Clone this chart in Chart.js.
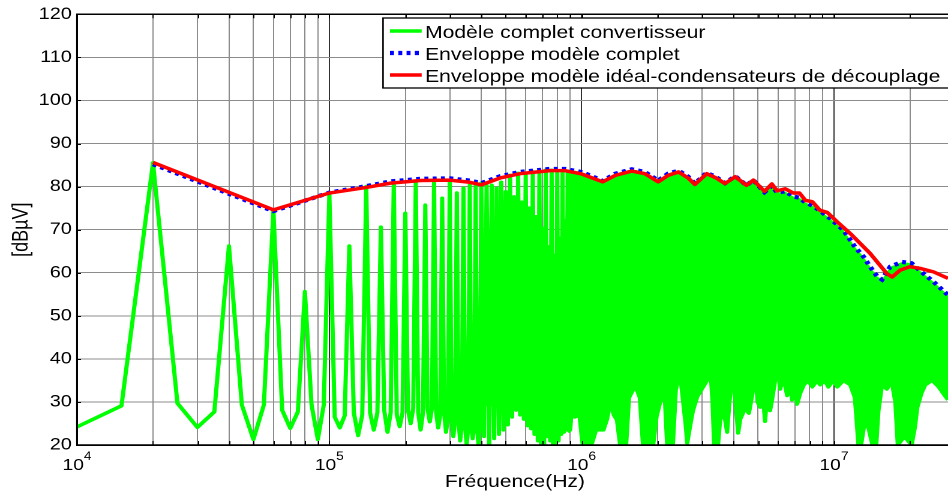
<!DOCTYPE html>
<html><head><meta charset="utf-8">
<script src="https://cdn.jsdelivr.net/npm/chart.js@4.4.1/dist/chart.umd.min.js"></script>
<style>html,body{margin:0;padding:0;background:#fff;overflow:hidden}</style>
</head><body>
<canvas id="c" width="790" height="494" style="display:block;width:948px;height:494px"></canvas>
<script>
const FONT = '"Liberation Sans", Arial, Helvetica, sans-serif';
const seriesLabels = ['Modèle complet convertisseur', 'Enveloppe modèle complet', 'Enveloppe modèle idéal-condensateurs de découplage'];
const xTitle = 'Fréquence(Hz)';
const yTitle = '[dBµV]';
const xMin = 1e4, xMax = 2.83e7;
const yMin = 20, yMax = 120, yStep = 10;
const xDecadeExponents = [4, 5, 6, 7];
const xMinorMultipliers = [1, 2, 3, 4, 5, 6, 7, 8, 9];

// Green spectrum, low part: one value every 5 kHz from 10 kHz to 400 kHz
const greenLowStartHz = 10000, greenLowStepHz = 5000;
const greenLow = [24.2, 29.1, 85.5, 29.7, 24.1, 27.7, 66.2, 29.3, 21.3, 29.3,
  74.5, 28.1, 23.9, 27.7, 55.6, 29.3, 21.3, 29.3, 78.3, 26.5,
  24.0, 26.8, 66.2, 27.5, 22.2, 27.0, 80.0, 27.5, 23.5, 27.5,
  70.6, 28.0, 23.0, 27.5, 80.8, 27.0, 24.3, 27.5, 73.8, 28.0,
  25.0, 28.5, 81.3, 27.5, 23.5, 27.5, 75.7, 28.5, 25.4, 28.5,
  81.1, 27.5, 24.0, 27.0, 77.3, 27.5, 23.0, 26.5, 81.0, 26.0,
  22.0, 26.0, 78.5, 25.5, 21.0, 25.0, 79.6, 24.5, 20.0, 24.0,
  80.3, 24.5, 21.5, 25.0, 80.3, 24.0, 20.0, 24.0, 80.8];
// Green spectrum, middle part: one value every 10 kHz from 410 kHz to 880 kHz
const greenMidStartHz = 410000, greenMidStepHz = 10000;
const greenMid = [22.0, 80.3, 20.0, 80.3, 21.5, 79.6, 22.5, 81.0, 23.5, 78.8,
  24.7, 82.6, 26.5, 77.6, 28.1, 83.1, 27.0, 76.4, 26.0, 83.0,
  24.5, 75.0, 23.8, 83.4, 22.5, 73.0, 21.0, 83.5, 20.0, 70.3,
  20.0, 83.8, 22.0, 66.0, 21.0, 83.8, 20.0, 64.0, 20.0, 83.7,
  21.0, 68.0, 22.5, 83.7, 23.0, 72.0, 23.5, 83.5];
// Solid green zone between the lines (360 kHz to 880 kHz): lower and upper edges
const greenSolidHz = [3.6e5, 3.9e5, 4.2e5, 4.5e5, 4.8e5, 5.2e5, 5.8e5, 6.2e5, 6.6e5, 7.0e5, 7.4e5, 7.8e5, 8.2e5, 8.6e5, 8.8e5];
const greenSolidBottom = [32, 30, 29, 29, 29, 30, 31, 30, 29, 28, 28, 27, 27, 27, 27];
const greenSolidTop = [32, 50, 60, 68, 74, 76, 75, 74, 72, 69, 65, 63, 67, 71, 83];
// Green spectrum, dense part: lower edge of the filled band (upper edge = envelope)
const greenBandHz = [880e3, 900e3, 910e3, 940e3, 980e3, 1.0e6, 1.01e6, 1.06e6, 1.1e6, 1.14e6,
  1.22e6, 1.26e6, 1.3e6, 1.34e6, 1.38e6, 1.42e6, 1.5e6, 1.54e6, 1.63e6, 1.7e6,
  1.75e6, 1.92e6, 1.98e6, 2.08e6, 2.14e6, 2.18e6, 2.3e6, 2.36e6, 2.45e6, 2.52e6,
  2.58e6, 2.62e6, 2.7e6, 2.76e6, 2.87e6, 3.03e6, 3.14e6, 3.23e6, 3.3e6, 3.35e6,
  3.47e6, 3.55e6, 3.7e6, 3.77e6, 3.85e6, 3.98e6, 4.07e6, 4.17e6, 4.25e6, 4.44e6,
  4.6e6, 4.75e6, 4.87e6, 4.98e6, 5.1e6, 5.2e6, 5.33e6, 5.45e6, 5.58e6, 5.7e6,
  5.84e6, 6.0e6, 6.12e6, 6.3e6, 6.52e6, 6.7e6, 6.82e6, 7.0e6, 7.14e6, 7.34e6,
  7.6e6, 7.9e6, 8.2e6, 8.57e6, 8.81e6, 9.2e6, 9.5e6, 9.92e6, 1.03e7, 1.09e7,
  1.16e7, 1.21e7, 1.25e7, 1.28e7, 1.32e7, 1.37e7, 1.42e7, 1.47e7, 1.5e7, 1.55e7,
  1.62e7, 1.69e7, 1.75e7, 1.79e7, 1.9e7, 2.03e7, 2.09e7, 2.14e7, 2.22e7, 2.3e7,
  2.45e7, 2.6e7, 2.71e7, 2.83e7, 3.0e7];
const greenBandBottom = [23, 23.5, 27, 26.5, 27, 22, 20, 20, 20.5, 23.5,
  23.5, 26, 30, 27, 25.8, 20, 20, 31, 33.8, 31,
  20, 20, 26.6, 31.6, 30, 20.4, 20.4, 32.8, 37, 30.4,
  25, 20.5, 25, 28, 31.2, 33.5, 35, 38.7, 30, 20,
  20, 27, 26, 23, 30, 37.4, 30, 22.8, 26, 28.5,
  27.4, 32, 37.4, 30, 28.8, 33, 25.5, 33, 28, 31,
  35, 37, 33, 36, 31.5, 34, 30.5, 33, 29.5, 32,
  34, 35, 33.5, 35, 34, 35, 33.5, 35, 33.5, 35,
  34, 31, 20, 20, 25, 24, 20, 20, 28, 34,
  33, 35, 30, 20, 22, 20, 24, 28.8, 32, 34,
  35, 33.5, 32, 30.5, 30];

// Envelope of the complete model (blue dotted)
const blueHz = [2e4, 6e4, 1e5, 1.4e5, 1.75e5, 2.3e5, 3e5, 3.6e5, 4e5, 4.75e5,
  5.7e5, 7.5e5, 8.6e5, 9.9e5, 1.08e6, 1.21e6, 1.36e6, 1.58e6, 1.78e6, 2.01e6,
  2.2e6, 2.42e6, 2.64e6, 2.81e6, 3.13e6, 3.41e6, 3.7e6, 4.06e6, 4.5e6, 4.79e6,
  5.3e6, 5.67e6, 5.95e6, 6.4e6, 6.9e6, 7.3e6, 7.7e6, 8.2e6, 8.55e6, 9.65e6,
  1.09e7, 1.21e7, 1.31e7, 1.39e7, 1.48e7, 1.55e7, 1.67e7, 1.86e7, 2.03e7, 2.26e7,
  2.48e7, 2.83e7, 3e7];
const blueDb = [85.2, 74.3, 78.6, 80.1, 81.2, 81.8, 81.9, 81.4, 80.8, 82.4,
  83.4, 84.1, 84.1, 83.4, 82.6, 81.3, 83.0, 84.0, 83.4, 81.4,
  83.0, 83.7, 82.3, 80.7, 83.2, 82.2, 80.8, 82.4, 80.3, 81.5,
  78.7, 80.2, 78.6, 78.9, 77.7, 77.4, 76.3, 75.6, 74.9, 72.6,
  69.9, 66.0, 63.7, 61.4, 59.2, 58.4, 61.4, 62.5, 62.2, 59.8,
  57.9, 54.8, 53.6];

// Envelope of the ideal model with decoupling capacitors (red)
const redHz = [2e4, 6e4, 1e5, 1.4e5, 1.75e5, 2.3e5, 3e5, 3.6e5, 4e5, 4.75e5,
  5.7e5, 7.5e5, 8.6e5, 9.9e5, 1.08e6, 1.21e6, 1.36e6, 1.58e6, 1.78e6, 2.01e6,
  2.2e6, 2.42e6, 2.64e6, 2.81e6, 3.13e6, 3.41e6, 3.7e6, 4.06e6, 4.5e6, 4.79e6,
  5.3e6, 5.67e6, 5.95e6, 6.4e6, 6.9e6, 7.3e6, 7.7e6, 8.2e6, 8.8e6, 9.4e6,
  1.03e7, 1.16e7, 1.39e7, 1.62e7, 1.7e7, 1.83e7, 2.0e7, 2.2e7, 2.48e7, 2.83e7, 3e7];
const redDb = [85.6, 74.6, 78.5, 79.8, 80.8, 81.4, 81.5, 81.0, 80.4, 82.0,
  83.0, 83.7, 83.7, 83.0, 82.2, 81.1, 82.6, 83.6, 83.0, 81.1,
  82.6, 83.4, 82.0, 80.5, 83.0, 82.0, 80.7, 82.3, 80.3, 81.5,
  78.9, 80.6, 79.0, 79.5, 78.5, 78.5, 76.8, 76.5, 74.5, 74.0,
  71.8, 69.1, 64.5, 59.8, 59.0, 60.6, 61.4, 61.0, 60.2, 58.7, 58.2];

// ---- build library data tables ----
const greenLine = greenLow.map((v, i) => ({x: greenLowStartHz + i * greenLowStepHz, y: v}))
  .concat(greenMid.map((v, i) => ({x: greenMidStartHz + i * greenMidStepHz, y: v})));
const greenBand = greenBandHz.map((f, i) => ({x: f, y: greenBandBottom[i]}));
const greenSolidLo = greenSolidHz.map((f, i) => ({x: f, y: greenSolidBottom[i]}));
const greenSolidHi = greenSolidHz.map((f, i) => ({x: f, y: greenSolidTop[i]}));
const blueData = blueHz.map((f, i) => ({x: f, y: blueDb[i]}));
const redData = redHz.map((f, i) => ({x: f, y: redDb[i]}));
const xTickValues = [];
xDecadeExponents.forEach(e => xMinorMultipliers.forEach(m => xTickValues.push(m * Math.pow(10, e))));
const isDecade = v => xDecadeExponents.some(e => Math.abs(v - Math.pow(10, e)) < 1e-6 * v);

const GREEN = '#00ff00', BLUE = '#0000ff', RED = '#ff0000';

const overlay = {
  id: 'overlay',
  afterDatasetsDraw(chart) {
    const {ctx, chartArea: a, scales: {x, y}} = chart;
    ctx.save();
    // inward tick marks
    ctx.strokeStyle = '#000';
    ctx.lineWidth = 1;
    ctx.beginPath();
    x.ticks.forEach(t => {
      const px = Math.round(x.getPixelForValue(t.value)) + 0.5;
      ctx.moveTo(px, a.bottom); ctx.lineTo(px, a.bottom - 4);
      ctx.moveTo(px, a.top); ctx.lineTo(px, a.top + 4);
    });
    y.ticks.forEach(t => {
      const py = Math.round(y.getPixelForValue(t.value)) + 0.5;
      ctx.moveTo(a.left, py); ctx.lineTo(a.left + 3.3, py);
    });
    ctx.stroke();
    // frame
    ctx.lineWidth = 1.5;
    ctx.beginPath();
    ctx.moveTo(a.left, a.top); ctx.lineTo(a.right + 2, a.top);
    ctx.moveTo(a.left, a.bottom); ctx.lineTo(a.right + 2, a.bottom);
    ctx.moveTo(a.left, a.top); ctx.lineTo(a.left, a.bottom);
    ctx.stroke();
    // x tick labels 10^n
    ctx.fillStyle = '#000';
    ctx.textBaseline = 'alphabetic';
    ctx.textAlign = 'left';
    xDecadeExponents.forEach(e => {
      const px = x.getPixelForValue(Math.pow(10, e));
      ctx.font = '16px ' + FONT;
      const w1 = ctx.measureText('10').width;
      ctx.font = '11.5px ' + FONT;
      const w2 = ctx.measureText(String(e)).width;
      const start = px - (w1 + w2) / 2;
      ctx.font = '16px ' + FONT;
      ctx.fillText('10', start, 470);
      ctx.font = '11.5px ' + FONT;
      ctx.fillText(String(e), start + w1, 460);
    });
    // x axis title
    ctx.font = '17.5px ' + FONT;
    ctx.textAlign = 'center';
    ctx.fillText(xTitle, (a.left + a.right) / 2 + 2, 487);
    ctx.textAlign = 'left';
    // legend box
    const lx = 319.2, ly = 18, lh = 70;
    ctx.fillStyle = '#fff';
    ctx.fillRect(lx, ly, chart.width - lx + 5, lh);
    ctx.lineWidth = 1.3;
    ctx.strokeStyle = '#000';
    ctx.strokeRect(lx, ly, chart.width - lx + 10, lh);
    const rows = [
      {label: seriesLabels[0], color: GREEN, dash: [], base: 38},
      {label: seriesLabels[1], color: BLUE, dash: [3.3, 3.6], base: 60},
      {label: seriesLabels[2], color: RED, dash: [], base: 82}
    ];
    rows.forEach(r => {
      ctx.beginPath();
      ctx.setLineDash(r.dash);
      ctx.lineWidth = r.color === BLUE ? 4.2 : 3.5;
      ctx.lineCap = 'butt';
      ctx.strokeStyle = r.color;
      ctx.moveTo(325, r.base - 7);
      ctx.lineTo(351.4, r.base - 7);
      ctx.stroke();
      ctx.setLineDash([]);
      ctx.fillStyle = '#000';
      ctx.font = '17.6px ' + FONT;
      ctx.fillText(r.label, 354.2, r.base);
    });
    ctx.restore();
  }
};

Chart.defaults.color = '#000';
new Chart(document.getElementById('c'), {
  type: 'line',
  data: {
    datasets: [
      {label: seriesLabels[2], data: redData, borderColor: RED, borderWidth: 3.5, pointRadius: 0, fill: false, order: 0, borderJoinStyle: 'round'},
      {label: seriesLabels[1], data: blueData, borderColor: BLUE, borderWidth: 4.2, borderDash: [3.3, 3.6], pointRadius: 0, fill: false, order: 1},
      {label: seriesLabels[0], data: greenLine, borderColor: GREEN, borderWidth: 3.5, pointRadius: 0, fill: false, order: 2, borderJoinStyle: 'round', borderCapStyle: 'round'},
      {label: seriesLabels[0] + ' (dense)', data: greenBand, borderColor: GREEN, backgroundColor: GREEN, borderWidth: 3.5, pointRadius: 0, fill: {target: 1}, order: 3, borderJoinStyle: 'round'},
      {label: seriesLabels[0] + ' (solid top)', data: greenSolidHi, borderColor: GREEN, borderWidth: 0, pointRadius: 0, fill: false, order: 5},
      {label: seriesLabels[0] + ' (solid)', data: greenSolidLo, borderColor: GREEN, backgroundColor: GREEN, borderWidth: 0, pointRadius: 0, fill: {target: 4}, order: 4}
    ]
  },
  options: {
    responsive: false,
    devicePixelRatio: 2,
    animation: false,
    events: [],
    layout: {padding: {top: 14, left: 0, right: 0, bottom: 0}},
    plugins: {legend: {display: false}, tooltip: {enabled: false}},
    scales: {
      x: {
        type: 'logarithmic', min: xMin, max: xMax,
        afterBuildTicks(scale) { scale.ticks = xTickValues.filter(v => v >= xMin && v <= xMax).map(v => ({value: v, major: isDecade(v)})); },
        afterFit(scale) { scale.height = 49; },
        ticks: {display: false},
        grid: {drawTicks: false, lineWidth: 1, color: c => (c.tick && isDecade(c.tick.value)) ? '#303030' : '#8c8c8c'},
        border: {display: true, color: '#000', width: 1.5},
        title: {display: false, text: xTitle}
      },
      y: {
        min: yMin, max: yMax,
        afterFit(scale) { scale.width = 64.2; },
        ticks: {stepSize: yStep, autoSkip: false, padding: 4.4, color: '#000', font: {family: FONT, size: 16.5}},
        grid: {drawTicks: false, lineWidth: 1, color: '#8c8c8c'},
        border: {display: true, color: '#000', width: 1.5},
        title: {display: true, text: yTitle, color: '#000', font: {family: FONT, size: 18}, padding: {top: 7.3, bottom: 0}}
      }
    }
  },
  plugins: [overlay]
});
</script>
</body></html>
